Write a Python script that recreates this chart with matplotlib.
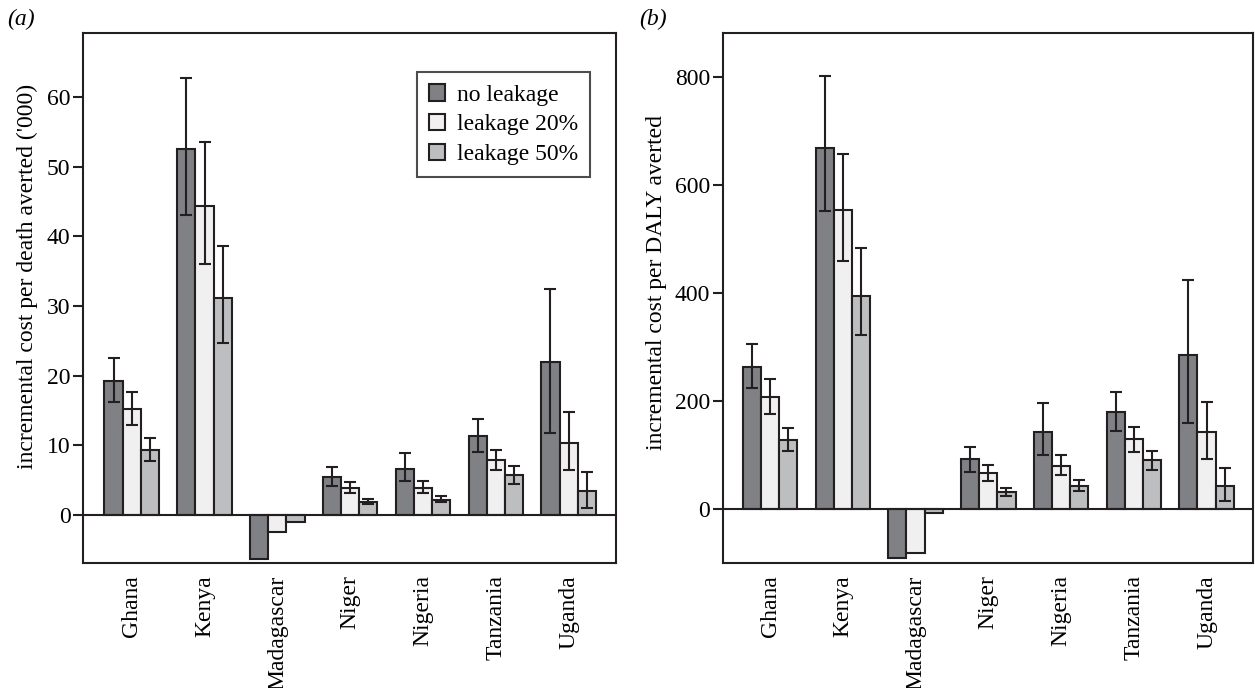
import numpy as np
import matplotlib.pyplot as plt

countries = ["Ghana", "Kenya", "Madagascar", "Niger", "Nigeria", "Tanzania", "Uganda"]
series = ["no leakage", "leakage 20%", "leakage 50%"]

# (a) incremental cost per death averted ('000)
death_val = [[19.2, 52.6, -6.3, 5.5, 6.6, 11.3, 22.0],
             [15.2, 44.3, -2.4, 3.9, 3.9, 7.9, 10.3],
             [9.3, 31.1, -1.0, 1.9, 2.2, 5.7, 3.5]]
death_lo = [[16.2, 43.0, None, 4.2, 4.9, 9.0, 11.8],
            [12.9, 36.0, None, 3.2, 3.2, 6.5, 6.5],
            [7.7, 24.7, None, 1.6, 1.9, 4.4, 1.0]]
death_hi = [[22.5, 62.8, None, 6.9, 8.9, 13.8, 32.4],
            [17.6, 53.5, None, 4.7, 4.9, 9.3, 14.8],
            [11.0, 38.6, None, 2.3, 2.7, 7.0, 6.1]]

# (b) incremental cost per DALY averted
daly_val = [[263, 669, -91, 93, 143, 180, 285],
            [207, 554, -81, 67, 80, 130, 143],
            [128, 394, -8, 31, 43, 91, 43]]
daly_lo = [[224, 552, None, 69, 100, 144, 159],
           [176, 459, None, 52, 63, 106, 93],
           [107, 322, None, 24, 33, 72, 15]]
daly_hi = [[306, 802, None, 115, 196, 217, 424],
           [241, 657, None, 81, 100, 152, 198],
           [150, 483, None, 39, 54, 107, 76]]

colors = ["#808185", "#f0f0f0", "#bdbec0"]
edge = "#231f20"
fs = 17

plt.rcParams['font.family'] = ['Liberation Serif', 'DejaVu Serif']

fig = plt.figure(figsize=(12.55, 6.88), dpi=100)
ax1 = fig.add_axes([0.0661, 0.1817, 0.4247, 0.7703])
ax2 = fig.add_axes([0.5759, 0.1817, 0.4226, 0.7703])


def draw(ax, vals, lo, hi, ylabel, xlim, ylim, yticks, label_y):
    x = np.arange(len(countries))
    w = 0.25
    for i in range(3):
        xi = x + (i - 1) * w
        ax.bar(xi, vals[i], w, color=colors[i], edgecolor=edge, linewidth=1.5,
               label=series[i], zorder=2)
        for j in range(len(countries)):
            if lo[i][j] is None:
                continue
            ax.errorbar(xi[j], vals[i][j],
                        yerr=[[vals[i][j] - lo[i][j]], [hi[i][j] - vals[i][j]]],
                        fmt='none', ecolor=edge, elinewidth=1.5, capsize=4,
                        capthick=1.5, zorder=3)
    ax.axhline(0, color=edge, linewidth=1.5, zorder=4)
    ax.set_xlim(*xlim)
    ax.set_ylim(*ylim)
    ax.set_yticks(yticks)
    ax.set_xticks(x)
    ax.set_xticklabels(countries, rotation=90, fontsize=fs)
    ax.tick_params(axis='x', length=0, pad=9)
    ax.tick_params(axis='y', labelsize=fs, width=1.5, length=7, pad=2, color=edge)
    ax.set_ylabel(ylabel, fontsize=fs, labelpad=6)
    ax.yaxis.label.set_y(label_y)
    for s in ax.spines.values():
        s.set_linewidth(1.5)
        s.set_color(edge)


draw(ax1, death_val, death_lo, death_hi,
     "incremental cost per death averted ('000)",
     (-0.67, 6.65), (-6.9, 69.2), [0, 10, 20, 30, 40, 50, 60], 0.54)
draw(ax2, daly_val, daly_lo, daly_hi,
     "incremental cost per DALY averted",
     (-0.65, 6.64), (-100, 881), [0, 200, 400, 600, 800], 0.53)

leg = ax1.legend(loc='upper right', bbox_to_anchor=(0.951, 0.926), borderaxespad=0,
                 fontsize=fs, frameon=True, fancybox=False, edgecolor=edge,
                 handlelength=0.7, handleheight=0.7, handletextpad=0.5,
                 borderpad=0.5, labelspacing=0.35)
leg.get_frame().set_linewidth(1.5)

fig.text(0.006, 0.963, "(a)", fontsize=fs, style='italic')
fig.text(0.509, 0.963, "(b)", fontsize=fs, style='italic')

fig.savefig("out.png", dpi=100)
